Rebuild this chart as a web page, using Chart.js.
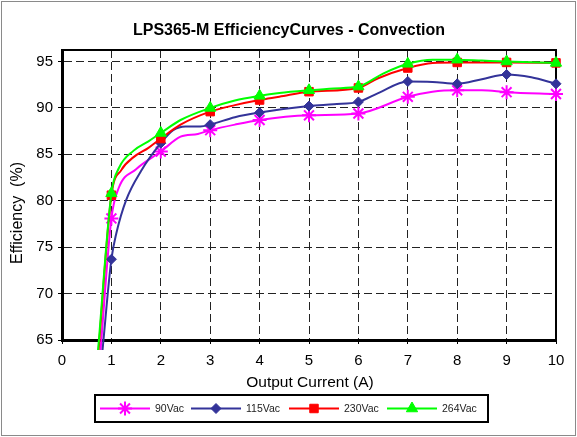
<!DOCTYPE html>
<html>
<head>
<meta charset="utf-8">
<script src="https://cdn.jsdelivr.net/npm/chart.js"></script>
<style>
  html, body { margin: 0; padding: 0; background: #ffffff; }
  canvas { display: block; }
</style>
</head>
<body>
<canvas id="c" width="577" height="437"></canvas>
<script>
// ---- Data ----
const chartTitle = 'LPS365-M EfficiencyCurves - Convection';
const xAxisTitle = 'Output Current (A)';
const yAxisTitle = 'Efficiency  (%)';
const seriesNames = ['90Vac', '115Vac', '230Vac', '264Vac'];

const current90 = [0.78, 1, 1.15, 1.5, 2, 2.4, 2.75, 3, 3.5, 4, 5, 6, 7, 7.5, 8, 8.5, 9, 10];
const eff90     = [63.9, 78.1, 81.4, 83.4, 85.3, 86.9, 87.2, 87.6, 88.2, 88.7, 89.2, 89.4, 91.2, 91.75, 91.9, 91.9, 91.7, 91.5];

const current115 = [0.82, 1, 1.1, 1.3, 1.6, 2, 2.25, 2.5, 2.8, 3, 3.5, 4, 5, 5.5, 6, 6.4, 7, 7.5, 8, 8.5, 9, 9.5, 10];
const eff115     = [63.9, 73.7, 76.5, 80.1, 83.2, 86.2, 87.6, 88.0, 88.0, 88.2, 89.0, 89.5, 90.2, 90.4, 90.65, 91.6, 92.85, 92.8, 92.6, 93.1, 93.6, 93.3, 92.6];

const current230 = [0.74, 1, 1.2, 1.45, 1.75, 2, 2.4, 3, 3.5, 4, 4.4, 5, 6, 6.4, 7, 7.5, 8, 9, 10];
const eff230     = [63.9, 80.6, 83.3, 84.7, 85.7, 86.7, 88.2, 89.6, 90.3, 90.85, 91.2, 91.75, 92.15, 93.2, 94.3, 94.85, 94.9, 94.9, 94.85];

const current264 = [0.73, 1, 1.15, 1.45, 1.75, 2, 2.4, 3, 3.5, 4, 4.4, 5, 5.5, 6, 6.5, 7, 7.5, 8, 8.5, 9, 10];
const eff264     = [63.9, 80.8, 83.5, 85.4, 86.4, 87.3, 88.7, 90.0, 90.8, 91.3, 91.6, 91.9, 92.1, 92.3, 93.7, 94.75, 95.2, 95.2, 95.1, 95.0, 94.85];

const xTicks = [0, 1, 2, 3, 4, 5, 6, 7, 8, 9, 10];
const yTicks = [65, 70, 75, 80, 85, 90, 95];

// ---- Styles ----
const FONT = '"Liberation Sans", Arial, sans-serif';
const styles = {
  '90Vac':  { color: '#FF00FF', pointStyle: 'star',     radius: 7,   fill: '#FF00FF', pbw: 2 },
  '115Vac': { color: '#333399', pointStyle: 'rectRot',  radius: 5,   fill: '#333399', pbw: 1 },
  '230Vac': { color: '#FF0000', pointStyle: 'rect',     radius: 6,   fill: '#FF0000', pbw: 1 },
  '264Vac': { color: '#00FF00', pointStyle: 'triangle', radius: 6.5, fill: '#00FF00', pbw: 1 }
};

function toPoints(xs, ys) { return xs.map((x, i) => ({ x: x, y: ys[i] })); }

const seriesData = {
  '90Vac': toPoints(current90, eff90),
  '115Vac': toPoints(current115, eff115),
  '230Vac': toPoints(current230, eff230),
  '264Vac': toPoints(current264, eff264)
};

function makeDataset(name) {
  const s = styles[name];
  return {
    label: name,
    data: seriesData[name],
    borderColor: s.color,
    backgroundColor: s.fill,
    borderWidth: 2,
    pointStyle: s.pointStyle,
    pointBackgroundColor: s.fill,
    pointBorderColor: s.color,
    pointBorderWidth: s.pbw,
    pointRadius: ctx => (ctx.raw && Number.isInteger(ctx.raw.x)) ? s.radius : 0,
    pointHoverRadius: ctx => (ctx.raw && Number.isInteger(ctx.raw.x)) ? s.radius : 0,
    showLine: true,
    fill: false,
    cubicInterpolationMode: 'monotone',
    clip: { left: 10, top: 10, right: 10, bottom: 10 }
  };
}

// draw order: first dataset is drawn on top, so 264Vac first
const drawOrder = ['264Vac', '230Vac', '115Vac', '90Vac'];

const decor = {
  id: 'decor',
  beforeDraw(chart) {
    const ctx = chart.ctx;
    ctx.save();
    ctx.fillStyle = '#ffffff';
    ctx.fillRect(0, 0, chart.width, chart.height);
    ctx.strokeStyle = '#8a8a8a';
    ctx.lineWidth = 1;
    ctx.strokeRect(1.5, 1.5, chart.width - 3, chart.height - 3);
    ctx.restore();
  },
  beforeDatasetsDraw(chart) {
    const ctx = chart.ctx, a = chart.chartArea;
    ctx.save();
    ctx.strokeStyle = '#000';
    ctx.lineWidth = 2;
    ctx.beginPath();
    ctx.moveTo(a.left, a.top);
    ctx.lineTo(a.right, a.top);
    ctx.lineTo(a.right, a.bottom);
    ctx.stroke();
    ctx.restore();
  },
  afterDraw(chart) {
    const ctx = chart.ctx;
    ctx.save();
    // Title
    ctx.fillStyle = '#000';
    ctx.font = 'bold 16px ' + FONT;
    ctx.textAlign = 'center';
    ctx.textBaseline = 'middle';
    ctx.fillText(chartTitle, 289, 31);
    // Axis titles
    ctx.font = '15.5px ' + FONT;
    ctx.fillText(xAxisTitle, 310, 383);
    ctx.save();
    ctx.translate(18, 213);
    ctx.rotate(-Math.PI / 2);
    ctx.font = '16px ' + FONT;
    ctx.fillText(yAxisTitle, 0, 0);
    ctx.restore();
    // Legend box
    ctx.strokeStyle = '#000';
    ctx.lineWidth = 2;
    ctx.strokeRect(95, 395, 393, 27);
    const starts = [100, 191, 289, 387];
    ctx.font = '10.5px ' + FONT;
    ctx.textAlign = 'left';
    seriesNames.forEach((name, i) => {
      const s = styles[name];
      const x0 = starts[i], x1 = x0 + 50, y = 408.5;
      ctx.strokeStyle = s.color;
      ctx.lineWidth = 2;
      ctx.beginPath();
      ctx.moveTo(x0, y);
      ctx.lineTo(x1, y);
      ctx.stroke();
      ctx.fillStyle = s.fill;
      ctx.strokeStyle = s.color;
      ctx.lineWidth = s.pbw;
      if (Chart.helpers && Chart.helpers.drawPoint) {
        Chart.helpers.drawPoint(ctx, { pointStyle: s.pointStyle, radius: s.radius, rotation: 0, borderWidth: s.pbw }, (x0 + x1) / 2, y);
      }
      ctx.fillStyle = '#222';
      ctx.fillText(name, x1 + 5, y + 0.5);
    });
    ctx.restore();
  }
};

new Chart(document.getElementById('c'), {
  type: 'line',
  data: { datasets: drawOrder.map(makeDataset) },
  options: {
    responsive: false,
    animation: false,
    events: [],
    layout: { padding: { top: 50, right: 21, bottom: 0, left: 0 } },
    plugins: { legend: { display: false }, title: { display: false }, tooltip: { enabled: false } },
    scales: {
      x: {
        type: 'linear',
        min: xTicks[0],
        max: xTicks[xTicks.length - 1],
        afterFit: s => { s.height = 97; },
        afterBuildTicks: s => { s.ticks = xTicks.map(v => ({ value: v })); },
        ticks: { color: '#000', font: { family: FONT, size: 15 }, padding: 8, maxRotation: 0, autoSkip: false },
        grid: { color: '#222', lineWidth: 1, tickLength: 4, tickColor: '#000', tickBorderDash: [] },
        border: { display: true, color: '#000', width: 3, dash: [8, 4] }
      },
      y: {
        type: 'linear',
        min: 65,
        max: 96.24,
        afterFit: s => { s.width = 62; },
        afterBuildTicks: s => { s.ticks = yTicks.map(v => ({ value: v })); },
        ticks: { color: '#000', font: { family: FONT, size: 15 }, padding: 5, autoSkip: false },
        grid: { color: '#222', lineWidth: 1, tickLength: 4, tickColor: '#000', tickBorderDash: [] },
        border: { display: true, color: '#000', width: 3, dash: [8, 4] }
      }
    }
  },
  plugins: [decor]
});
</script>
</body>
</html>
